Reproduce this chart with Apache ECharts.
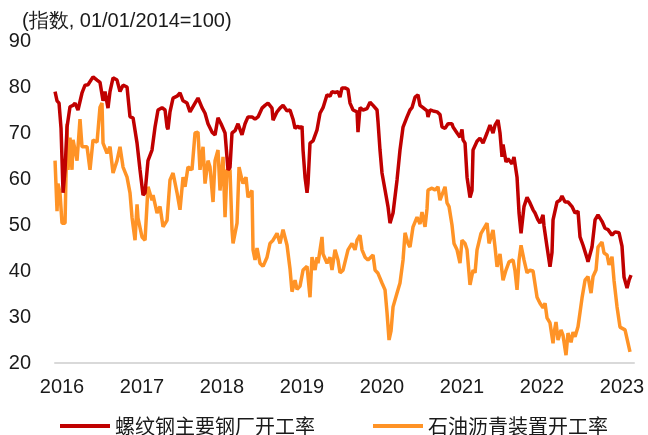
<!DOCTYPE html>
<html>
<head>
<meta charset="utf-8">
<script src="https://cdn.jsdelivr.net/npm/echarts@6/dist/echarts.min.js"></script>
<style>
  html, body { margin: 0; padding: 0; background: #fff; }
  #chart { width: 648px; height: 435px; }
</style>
</head>
<body>
<div id="chart"></div>
<script>
// x values are decimal years
const redX = [2015.913,2015.938,2015.963,2015.988,2016.013,2016.038,2016.063,2016.1,2016.138,2016.163,2016.2,2016.25,2016.288,2016.325,2016.35,2016.388,2016.438,2016.475,2016.513,2016.538,2016.575,2016.6,2016.638,2016.688,2016.725,2016.763,2016.813,2016.85,2016.888,2016.938,2016.975,2017.013,2017.038,2017.075,2017.125,2017.163,2017.2,2017.25,2017.288,2017.313,2017.325,2017.35,2017.388,2017.438,2017.475,2017.513,2017.563,2017.6,2017.663,2017.7,2017.75,2017.788,2017.825,2017.875,2017.913,2017.95,2017.988,2018.038,2018.075,2018.1,2018.125,2018.163,2018.2,2018.25,2018.288,2018.325,2018.375,2018.413,2018.45,2018.5,2018.538,2018.575,2018.625,2018.638,2018.688,2018.725,2018.763,2018.813,2018.85,2018.888,2018.913,2018.95,2018.975,2019.0,2019.013,2019.038,2019.063,2019.075,2019.1,2019.138,2019.188,2019.225,2019.263,2019.313,2019.35,2019.375,2019.413,2019.45,2019.475,2019.5,2019.538,2019.575,2019.6,2019.638,2019.688,2019.7,2019.725,2019.763,2019.813,2019.85,2019.888,2019.938,2019.95,2019.975,2020.0,2020.038,2020.075,2020.1,2020.125,2020.138,2020.188,2020.225,2020.263,2020.313,2020.35,2020.375,2020.413,2020.45,2020.475,2020.513,2020.563,2020.575,2020.6,2020.638,2020.688,2020.725,2020.75,2020.788,2020.825,2020.875,2020.888,2020.938,2020.975,2021.0,2021.013,2021.038,2021.063,2021.1,2021.125,2021.138,2021.188,2021.225,2021.263,2021.313,2021.35,2021.388,2021.413,2021.45,2021.475,2021.5,2021.513,2021.55,2021.575,2021.625,2021.65,2021.688,2021.713,2021.738,2021.775,2021.813,2021.85,2021.888,2021.913,2021.95,2021.975,2022.013,2022.025,2022.063,2022.1,2022.125,2022.138,2022.188,2022.225,2022.25,2022.288,2022.325,2022.375,2022.413,2022.45,2022.475,2022.513,2022.563,2022.575,2022.625,2022.663,2022.7,2022.75,2022.788,2022.825,2022.875,2022.913,2022.963,2023.0,2023.025,2023.063,2023.088,2023.113];
const redY = [79,77,76.5,71,57,62,71.3,75.7,76,76.5,75,78.7,80.4,80.5,80.8,82.2,81.5,81,77,79,75.4,79,82,81.5,79,80.4,80,73.5,73.3,67.8,62,56.5,57,64,66.3,71.3,75,75.5,75,71.3,70.8,74.6,77.6,78,78.7,77,76.5,74.6,76.5,77.6,75.5,74.3,72,70.2,69.6,73.3,72,70,62,62.5,70,70.5,72,69.6,72,73.5,73.5,73,73.5,75.4,76,76.5,75.4,72.8,74.6,75.4,76,74.8,75,73,71,71.5,71,71.5,66.3,60.4,57,59,67.8,68.3,70.7,74.3,75.5,78.3,78,79,78.8,79,77.8,79.8,79.8,79.5,76.5,75,74.6,70.2,75.5,75,75.3,76.7,76,75,72.5,66.3,61.3,57.6,54,50.4,50,52.6,59.8,66.3,71.3,73.5,75,75.5,77.8,78.3,76,75.5,74.8,73.5,75,74.8,74.6,74,71.3,71,72,72,71.3,70,69.1,70.8,68.5,67.8,60.4,56,57.5,66.3,68.2,68.9,67.8,70,71.7,70,71.7,72.8,70,64.8,67.5,63.7,64.4,63.3,64.8,60.4,52.6,48.2,54,56,54.8,53.3,52.6,51.1,50.4,52.2,49.8,45.2,40.9,44,51.1,55,55.4,56.3,55,55,54,52.6,53,47.4,45.6,42.8,42,45.2,51.1,52.2,50.8,49.3,49,47.8,48.5,48.3,45.4,38.7,36.3,38,39.1];

const orangeX = [2015.913,2015.938,2015.95,2015.975,2016.0,2016.038,2016.063,2016.075,2016.1,2016.125,2016.138,2016.188,2016.225,2016.25,2016.313,2016.35,2016.388,2016.438,2016.475,2016.5,2016.513,2016.563,2016.6,2016.638,2016.688,2016.725,2016.763,2016.813,2016.85,2016.875,2016.913,2016.938,2016.95,2017.0,2017.038,2017.075,2017.1,2017.125,2017.138,2017.188,2017.225,2017.263,2017.313,2017.35,2017.388,2017.438,2017.475,2017.513,2017.538,2017.575,2017.625,2017.663,2017.7,2017.725,2017.763,2017.788,2017.825,2017.85,2017.888,2017.913,2017.95,2017.975,2018.013,2018.038,2018.063,2018.1,2018.125,2018.138,2018.188,2018.213,2018.25,2018.263,2018.3,2018.325,2018.375,2018.388,2018.413,2018.438,2018.475,2018.513,2018.563,2018.6,2018.638,2018.688,2018.725,2018.763,2018.813,2018.85,2018.875,2018.913,2018.938,2018.975,2019.013,2019.063,2019.1,2019.125,2019.163,2019.188,2019.2,2019.25,2019.263,2019.313,2019.35,2019.375,2019.413,2019.45,2019.475,2019.513,2019.575,2019.625,2019.663,2019.688,2019.725,2019.75,2019.788,2019.825,2019.85,2019.888,2019.913,2019.95,2020.0,2020.038,2020.063,2020.088,2020.113,2020.138,2020.188,2020.225,2020.263,2020.288,2020.325,2020.35,2020.388,2020.438,2020.475,2020.5,2020.538,2020.563,2020.575,2020.625,2020.663,2020.7,2020.725,2020.75,2020.788,2020.813,2020.838,2020.875,2020.9,2020.938,2020.975,2021.0,2021.038,2021.063,2021.1,2021.138,2021.163,2021.188,2021.238,2021.263,2021.313,2021.338,2021.388,2021.413,2021.438,2021.475,2021.513,2021.55,2021.588,2021.638,2021.663,2021.688,2021.713,2021.738,2021.775,2021.813,2021.85,2021.888,2021.938,2021.975,2022.013,2022.038,2022.063,2022.1,2022.138,2022.15,2022.175,2022.2,2022.238,2022.263,2022.3,2022.325,2022.363,2022.388,2022.413,2022.45,2022.5,2022.538,2022.575,2022.613,2022.638,2022.675,2022.7,2022.75,2022.775,2022.813,2022.838,2022.875,2022.9,2022.938,2022.975,2023.038,2023.063,2023.1];
const orangeY = [64,53,59,57,50.4,50.4,72,62,69,62,68.5,64,73,67,67,62,68.5,68,75.6,76.5,67.8,65.6,67,61.3,64,67,62.6,60.4,57,51.7,46.7,54.5,51.5,47.4,46.7,58.3,58.3,55.4,56.5,52.6,54,49.6,51,59.8,61.3,57,53.3,60.4,58.3,62.6,62,70,70.2,62,67,59,64,62.6,55,64,66.3,57.5,64.8,51.7,62,62,49,46,50.4,62.6,59.8,59,60.4,56,57.5,44.6,42.4,45,41.7,41,43,46,46.7,48.2,46,49,45.6,40.5,35.5,38,36,36.7,40.2,41,34.3,43,40.2,43,41.7,47.4,43.7,41.7,43,40.2,44.6,42.4,39.6,40.2,44.6,46,44.6,46.7,47.8,44.6,43,42.4,42.4,43.5,40.2,39.5,37.4,35.9,30.9,25,27,32.2,35.2,37.4,42.4,48.3,46,45.2,49.6,51.7,50.2,52.8,49.6,53.6,57.6,58,57.6,58.3,55.4,55,58.3,54.8,54,50,46,44.6,41.7,46.7,46,44.6,37,40.2,39.6,44.6,48.2,48.2,50.4,46,48.9,45.2,40.9,43.7,38,40.2,42,42.4,40,35.9,42.4,45.6,42.4,39.6,40.2,40,34.3,33,32,33,29.8,28.7,24.3,26.5,28.9,25,27.2,26,21.7,26.5,24.5,26.7,25.7,27.9,34.1,38,38.8,35.2,38.8,40.2,45.2,46.3,43.9,43.5,41.3,43.1,38,32.2,27.8,27.2,26.8,22.4];

const yearLabels = [2016, 2017, 2018, 2019, 2020, 2021, 2022, 2023];
const seriesNames = ['螺纹钢主要钢厂开工率', '石油沥青装置开工率'];

const zip = (xs, ys) => xs.map((x, i) => [x, ys[i]]);

const chart = echarts.init(document.getElementById('chart'));
const font = '"Liberation Sans", Arial, sans-serif';

chart.setOption({
  animation: false,
  textStyle: { fontFamily: font },
  title: {
    text: '(指数, 01/01/2014=100)',
    left: 17, top: 6,
    textStyle: { fontSize: 20, fontWeight: 'normal', color: '#1a1a1a', fontFamily: font }
  },
  grid: { left: 55, right: 14, top: 41, bottom: 72 },
  legend: {
    left: 55, top: 411,
    itemWidth: 50, itemHeight: 4, itemGap: 58,
    icon: 'rect',
    textStyle: { fontSize: 20, color: '#1a1a1a', fontFamily: '"Noto Sans CJK SC", sans-serif' },
    data: seriesNames
  },
  xAxis: {
    type: 'value',
    min: 2015.9125,
    max: 2023.15,
    splitLine: { show: false },
    axisTick: { show: false },
    axisLine: { lineStyle: { color: '#d9d9d9', width: 2 } },
    axisLabel: {
      customValues: yearLabels,
      formatter: v => String(Math.round(v)),
      fontSize: 20, color: '#1a1a1a', margin: 14, fontFamily: font
    }
  },
  yAxis: {
    type: 'value',
    min: 20, max: 90, interval: 10,
    splitLine: { show: false },
    axisLine: { show: false },
    axisTick: { show: false },
    axisLabel: { fontSize: 20, color: '#1a1a1a', margin: 24, fontFamily: font }
  },
  series: [
    {
      name: seriesNames[0], type: 'line', showSymbol: false,
      data: zip(redX, redY),
      itemStyle: { color: '#c00000' },
      lineStyle: { color: '#c00000', width: 3.5 },
      z: 3
    },
    {
      name: seriesNames[1], type: 'line', showSymbol: false,
      data: zip(orangeX, orangeY),
      itemStyle: { color: '#ff9326' },
      lineStyle: { color: '#ff9326', width: 3.5 },
      z: 2
    }
  ]
});
</script>
</body>
</html>
